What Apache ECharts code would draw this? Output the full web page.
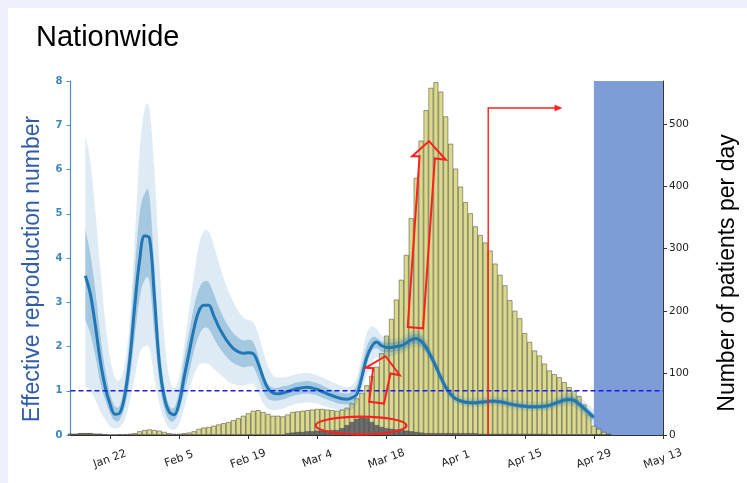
<!DOCTYPE html>
<html><head><meta charset="utf-8">
<script src="https://cdn.jsdelivr.net/npm/echarts@6/dist/echarts.min.js"></script>
<style>
html,body{margin:0;padding:0;background:#eef1f9;width:747px;height:483px;overflow:hidden;}
#panel{position:absolute;left:8px;top:8px;right:0;bottom:0;background:#fff;}
#chart{position:absolute;left:0;top:0;width:747px;height:483px;}
</style></head><body>
<div id="panel"></div>
<div id="chart"></div>
<script>
// ---------------- data ----------------
const axisStart = '2020-01-14';
const axisEnd = '2020-05-13';
const tickDates = ['2020-01-22','2020-02-05','2020-02-19','2020-03-04','2020-03-18','2020-04-01','2020-04-15','2020-04-29','2020-05-13'];
const tickLabels = ['Jan 22','Feb 5','Feb 19','Mar 4','Mar 18','Apr 1','Apr 15','Apr 29','May 13'];
const leftTicks = [0,1,2,3,4,5,6,7,8];
const rightTicks = [0,100,200,300,400,500];

// daily patients, one value per day starting 2020-01-14
const barStart = '2020-01-14';
const patientsTotal = [
  2,2,3,3,3,2,2,1,0,0,1,1,2,
  3,6,8,9,8,7,5,3,2,
  2,3,4,6,10,12,13,15,17,19,
  21,24,27,31,35,39,40,37,34,31,31,30,33,37,38,
  39,40,41,42,42,41,40,39,41,44,51,59,68,80,95,110,132,160,187,218,250,290,349,414,474,523,559,568,553,513,469,
  429,400,375,357,336,322,310,297,276,258,241,217,200,188,164,150,136,128,115,104,98,93,85,77,71,63,49,33,15,10,
  5,2
];
const patientsGray = [
  2,2,3,3,3,2,2,1,
  0,0,0,0,0,0,0,0,0,0,0,0,0,0,0,0,0,0,0,0,0,0,0,0,0,0,0,0,0,0,0,0,0,0,0,0,
  3,4,5,5,6,6,7,7,7,8,8,
  11,16,21,26,28,27,21,16,13,11,10,9,8,7,6,5,4,3,3,3,3,3,3,
  3,3,3,3,3,2,2,2,2,2,2,2,2,2,2,2,2,2,2,1,1,1,1,1,1,1,1,1,1,1,
  0,0
];

// effective reproduction number, one value per day starting 2020-01-17
const rStart = '2020-01-17';
const rMean = [
  3.60,3.20,2.50,1.70,1.10,0.70,0.47,0.50,0.90,1.70,
  2.90,3.95,4.50,4.45,3.10,1.60,0.85,0.52,0.46,0.72,
  1.30,1.85,2.40,2.80,2.93,2.93,2.70,2.45,2.25,2.08,
  1.95,1.88,1.85,1.86,1.84,1.62,1.30,1.05,0.95,0.93,
  0.95,0.98,1.02,1.05,1.07,1.08,1.06,1.03,0.98,0.93,
  0.89,0.85,0.82,0.81,0.84,0.92,1.30,1.75,2.00,2.10,
  2.02,1.98,1.98,2.00,2.02,2.08,2.15,2.18,2.12,1.98,
  1.78,1.55,1.30,1.08,0.92,0.82,0.77,0.74,0.73,0.73,
  0.74,0.75,0.76,0.76,0.75,0.73,0.70,0.68,0.66,0.65,
  0.64,0.64,0.64,0.65,0.67,0.71,0.75,0.79,0.80,0.78,
  0.70,0.60,0.50,0.40
];
const rHi95 = [
  6.77,6.20,5.10,3.80,2.60,1.75,1.30,1.25,1.60,2.60,
  4.40,6.40,7.35,7.35,6.00,3.90,2.20,1.30,1.06,1.30,
  2.00,2.80,3.60,4.30,4.60,4.60,4.30,3.90,3.55,3.25,
  3.00,2.80,2.65,2.60,2.55,2.30,1.90,1.55,1.35,1.30,
  1.30,1.32,1.35,1.38,1.40,1.40,1.38,1.35,1.30,1.25,
  1.20,1.15,1.10,1.08,1.12,1.30,1.80,2.30,2.45,2.40,
  2.25,2.20,2.18,2.18,2.20,2.27,2.34,2.36,2.30,2.15,
  1.94,1.70,1.44,1.20,1.04,0.93,0.88,0.85,0.84,0.84,
  0.85,0.86,0.87,0.87,0.86,0.84,0.81,0.79,0.77,0.76,
  0.75,0.75,0.75,0.77,0.79,0.83,0.88,0.93,0.95,0.94,
  0.87,0.78,0.68,0.58
];
const rLo95 = [
  1.10,1.00,0.80,0.55,0.35,0.20,0.15,0.18,0.35,0.75,
  1.30,1.85,2.00,1.95,1.30,0.70,0.35,0.15,0.12,0.25,
  0.60,1.00,1.35,1.58,1.62,1.60,1.50,1.40,1.30,1.20,
  1.15,1.12,1.12,1.15,1.15,0.95,0.72,0.60,0.56,0.57,
  0.60,0.64,0.68,0.71,0.73,0.74,0.73,0.71,0.67,0.63,
  0.60,0.57,0.55,0.55,0.58,0.70,1.00,1.35,1.65,1.75,
  1.75,1.76,1.78,1.82,1.85,1.90,1.96,2.00,1.95,1.82,
  1.63,1.40,1.16,0.96,0.81,0.72,0.67,0.64,0.63,0.63,
  0.64,0.65,0.66,0.66,0.65,0.63,0.60,0.58,0.56,0.55,
  0.54,0.54,0.54,0.54,0.56,0.60,0.63,0.66,0.66,0.63,
  0.55,0.44,0.33,0.22
];
const rHi50 = [
  4.65,4.10,3.30,2.30,1.50,0.95,0.65,0.68,1.20,2.20,
  3.70,5.00,5.45,5.40,3.80,2.10,1.10,0.68,0.62,0.98,
  1.70,2.30,2.90,3.30,3.47,3.45,3.20,2.90,2.65,2.45,
  2.30,2.20,2.14,2.15,2.10,1.80,1.42,1.15,1.07,1.07,
  1.10,1.12,1.16,1.19,1.21,1.22,1.20,1.17,1.12,1.06,
  1.02,0.98,0.95,0.94,0.98,1.14,1.58,2.00,2.20,2.20,
  2.12,2.09,2.09,2.11,2.13,2.19,2.26,2.29,2.23,2.08,
  1.87,1.63,1.38,1.15,0.98,0.87,0.82,0.79,0.78,0.78,
  0.79,0.80,0.81,0.81,0.80,0.78,0.75,0.73,0.71,0.70,
  0.69,0.69,0.69,0.71,0.73,0.77,0.82,0.86,0.88,0.86,
  0.78,0.68,0.58,0.48
];
const rLo50 = [
  2.60,2.30,1.80,1.20,0.80,0.50,0.32,0.35,0.65,1.25,
  2.20,3.10,3.50,3.45,2.30,1.20,0.60,0.34,0.32,0.55,
  0.95,1.40,1.90,2.25,2.42,2.40,2.20,2.00,1.85,1.72,
  1.62,1.57,1.53,1.55,1.54,1.30,1.00,0.82,0.78,0.78,
  0.80,0.84,0.88,0.91,0.93,0.94,0.92,0.89,0.84,0.80,
  0.76,0.72,0.70,0.69,0.72,0.86,1.22,1.60,1.90,1.96,
  1.88,1.87,1.87,1.89,1.91,1.97,2.04,2.07,2.01,1.88,
  1.69,1.47,1.22,1.01,0.86,0.77,0.72,0.69,0.68,0.68,
  0.69,0.70,0.71,0.71,0.70,0.68,0.65,0.63,0.61,0.60,
  0.59,0.59,0.59,0.59,0.61,0.65,0.68,0.72,0.72,0.70,
  0.62,0.52,0.42,0.32
];
const thresholdR = 1;
const shadedFrom = '2020-04-29';
const shadedTo = '2020-05-13';

// annotations (days after axisStart, R value)
const emergencyDay = 84.6;
const arrowTopR = 7.39;
const arrowEndDay = 99.1;
const ellipseCenter = [58.85, 0.215];
const ellipseRadius = [9.2, 0.2];
const smallArrow = [[60.5,0.75],[63.5,0.71],[64.8,1.39],[66.7,1.35],[63.8,1.78],[59.8,1.52],[61.3,1.51]];
const bigArrow = [[68.3,2.44],[71.4,2.41],[73.8,6.25],[76.0,6.22],[72.6,6.64],[69.2,6.30],[70.7,6.30]];

// ---------------- helpers ----------------
const DAY = 86400000;
function dateMs(s) { const p = s.split('-').map(Number); return Date.UTC(p[0], p[1]-1, p[2]); }
const x0ms = dateMs(axisStart);
function dayIdx(s) { return Math.round((dateMs(s) - x0ms) / DAY); }
const xMax = dayIdx(axisEnd);
const tickX = tickDates.map(dayIdx);
const barOff = dayIdx(barStart), rOff = dayIdx(rStart);

const barsTotal = patientsTotal.map((v,i) => [barOff + i, v]);
const barsGray = patientsGray.map((v,i) => [barOff + i, v]);
const meanData = rMean.map((v,i) => [rOff + i, v]);

// smooth path (Catmull-Rom) through pixel points
function crPath(pts) {
  let d = '';
  for (let i = 0; i < pts.length - 1; i++) {
    const p0 = pts[i-1] || pts[i], p1 = pts[i], p2 = pts[i+1], p3 = pts[i+2] || pts[i+1];
    const c1 = [p1[0] + (p2[0]-p0[0])/6, p1[1] + (p2[1]-p0[1])/6];
    const c2 = [p2[0] - (p3[0]-p1[0])/6, p2[1] - (p3[1]-p1[1])/6];
    d += ' C' + c1[0].toFixed(2) + ' ' + c1[1].toFixed(2) + ' ' + c2[0].toFixed(2) + ' ' + c2[1].toFixed(2) + ' ' + p2[0].toFixed(2) + ' ' + p2[1].toFixed(2);
  }
  return d;
}
function bandSeries(name, lo, hi, color, z) {
  return {
    name, type:'custom', silent:true, z, yAxisIndex:0,
    data: lo.map((v,i) => [rOff + i, v, hi[i]]),
    encode:{x:0, y:[1,2]},
    renderItem: (params, api) => {
      if (params.dataIndex !== 0) return null;
      const up = hi.map((v,i) => api.coord([rOff + i, v]));
      const dn = lo.map((v,i) => api.coord([rOff + i, v])).reverse();
      const d = 'M' + up[0][0].toFixed(2) + ' ' + up[0][1].toFixed(2) + crPath(up) +
                ' L' + dn[0][0].toFixed(2) + ' ' + dn[0][1].toFixed(2) + crPath(dn) + ' Z';
      return {type:'path', shape:{pathData:d}, style:{fill:color, stroke:null}};
    }
  };
}

const chart = echarts.init(document.getElementById('chart'), null, {renderer:'canvas'});
const SANS = 'Liberation Sans, Arial, sans-serif';
const MPL = 'DejaVu Sans, sans-serif';

chart.setOption({
  animation:false,
  backgroundColor:'transparent',
  title:{text:'Nationwide', left:31, top:18, textStyle:{fontSize:29, fontWeight:'normal', color:'#000', fontFamily:SANS}},
  grid:{left:70.5, right:84, top:81, bottom:48, containLabel:false},
  xAxis:{
    type:'value', min:0, max:xMax,
    axisLine:{show:true, onZero:false, lineStyle:{color:'#333', width:1}},
    axisTick:{show:true, customValues:tickX, length:4, lineStyle:{color:'#333'}},
    axisLabel:{customValues:tickX, formatter:(v)=>{const i = tickX.indexOf(v); return i>=0 ? tickLabels[i] : '';},
      rotate:20, align:'center', verticalAlign:'middle', margin:24, color:'#222', fontSize:11, fontFamily:MPL},
    splitLine:{show:false}
  },
  yAxis:[
    {type:'value', position:'left', min:0, max:8,
     name:'Effective reproduction number', nameLocation:'middle', nameGap:21, nameRotate:90,
     nameTextStyle:{color:'#2f5ca8', fontSize:23, fontFamily:SANS, padding:[0,22,0,0]},
     axisLine:{show:true, onZero:false, lineStyle:{color:'#4a90c4', width:1.2}},
     axisTick:{show:true, customValues:leftTicks, length:4, lineStyle:{color:'#4a90c4'}},
     axisLabel:{customValues:leftTicks, color:'#3a86bd', fontSize:10, fontWeight:'bold', fontFamily:MPL, margin:8},
     splitLine:{show:false}},
    {type:'value', position:'right', min:0, max:570,
     name:'Number of patients per day', nameLocation:'middle', nameGap:53, nameRotate:90,
     nameTextStyle:{color:'#000', fontSize:23, fontFamily:SANS, padding:[0,30,0,0]},
     axisLine:{show:true, onZero:false, lineStyle:{color:'#333', width:1}},
     axisTick:{show:true, customValues:rightTicks, length:4, lineStyle:{color:'#333'}},
     axisLabel:{customValues:rightTicks, color:'#222', fontSize:10.5, fontFamily:MPL, margin:6},
     splitLine:{show:false}}
  ],
  series:[
    {name:'total', type:'bar', yAxisIndex:1, data:barsTotal, barWidth:5, barGap:'-100%', z:1, silent:true,
     itemStyle:{color:'#dada8a', borderColor:'rgba(60,60,50,0.7)', borderWidth:0.7}},
    {name:'gray', type:'bar', yAxisIndex:1, data:barsGray, barWidth:5, barGap:'-100%', z:1, silent:true,
     itemStyle:{color:'#6c6c6c', borderColor:'rgba(40,40,40,0.6)', borderWidth:0.5}},
    bandSeries('ci95', rLo95, rHi95, 'rgba(31,119,180,0.15)', 3),
    bandSeries('ci50', rLo50, rHi50, 'rgba(31,119,180,0.30)', 3),
    {name:'R', type:'line', data:meanData, smooth:0.35, symbol:'none', silent:true, z:4,
     lineStyle:{color:'#2077b4', width:3},
     markArea:{silent:true, itemStyle:{color:'rgba(112,146,212,0.9)'}, data:[[{xAxis:dayIdx(shadedFrom)},{xAxis:dayIdx(shadedTo)}]]}},
    {name:'threshold', type:'line', data:[[0, thresholdR],[xMax, thresholdR]], symbol:'none', silent:true, z:6,
     lineStyle:{color:'#1c1cf0', width:1.3, type:[5,3]}}
  ]
});

// red annotations positioned through the axes
function px(d, r) { return chart.convertToPixel({xAxisIndex:0, yAxisIndex:0}, [d, r]); }
const red = '#ff1f1f';
const g = [];
const pBase = px(emergencyDay, 0), pTop = px(emergencyDay, arrowTopR), pEnd = px(arrowEndDay, arrowTopR);
g.push({type:'polyline', z:100, shape:{points:[pBase, pTop, pEnd]}, style:{stroke:red, lineWidth:1.4, fill:null}});
g.push({type:'polygon', z:100, shape:{points:[[pEnd[0]+2, pEnd[1]],[pEnd[0]-5, pEnd[1]-3],[pEnd[0]-5, pEnd[1]+3]]}, style:{fill:red, stroke:red, lineWidth:0.5}});
const ec = px(ellipseCenter[0], ellipseCenter[1]);
const ex = px(ellipseCenter[0] + ellipseRadius[0], ellipseCenter[1]);
const ey = px(ellipseCenter[0], ellipseCenter[1] + ellipseRadius[1]);
g.push({type:'ellipse', z:100, shape:{cx:ec[0], cy:ec[1], rx:Math.abs(ex[0]-ec[0]), ry:Math.abs(ec[1]-ey[1])}, style:{stroke:red, lineWidth:2.2, fill:null}});
[smallArrow, bigArrow].forEach(a => {
  g.push({type:'polygon', z:100, shape:{points:a.map(p => px(p[0], p[1]))}, style:{stroke:red, lineWidth:2, fill:null}});
});
chart.setOption({graphic:g});
</script>
</body></html>
